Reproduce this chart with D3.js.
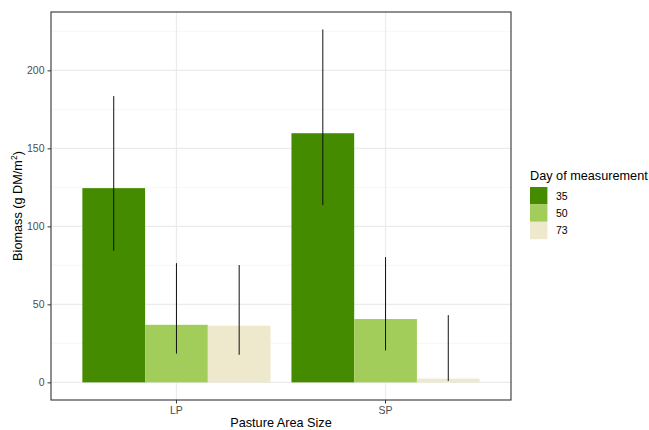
<!DOCTYPE html>
<html><head><meta charset="utf-8">
<script src="https://cdn.jsdelivr.net/npm/d3@7"></script>
<style>body{margin:0;background:#fff;} text{font-family:"Liberation Sans",Arial,sans-serif;}</style>
</head><body>
<svg id="c" width="649" height="430"></svg>
<script>
const categories = ["LP", "SP"];
const days = ["35", "50", "73"];
const colors = ["#458B00", "#A2CD5A", "#EEE8CD"];
const means = { "35": [124.5, 159.7], "50": [36.9, 40.6], "73": [36.3, 2.4] };
const lower = { "35": [84.3, 113.6], "50": [18.4, 20.5], "73": [17.7, 0.9] };
const upper = { "35": [183.5, 226.2], "50": [76.4, 80.3], "73": [75.2, 43.1] };
const yTicks = [0, 50, 100, 150, 200];
const yMinor = [25, 75, 125, 175, 225];

const svg = d3.select("#c");
const L = 51, R = 511, T = 12, B = 400;

const y = d3.scaleLinear().domain([-11.3, 237.4]).range([B, T]);
const x = d3.scaleLinear().domain([0.4, 2.6]).range([L, R]);
const xc = d => x(categories.indexOf(d) + 1);
const color = d3.scaleOrdinal().domain(days).range(colors);

svg.append("rect").attr("x", L).attr("y", T).attr("width", R - L).attr("height", B - T).attr("fill", "#fff");
const g = svg.append("g");
yMinor.forEach(v => g.append("line").attr("x1", L).attr("x2", R).attr("y1", y(v)).attr("y2", y(v)).attr("stroke", "#F2F2F2").attr("stroke-width", 0.7));
yTicks.forEach(v => g.append("line").attr("x1", L).attr("x2", R).attr("y1", y(v)).attr("y2", y(v)).attr("stroke", "#EBEBEB").attr("stroke-width", 1.2));
categories.forEach(c => g.append("line").attr("x1", xc(c)).attr("x2", xc(c)).attr("y1", T).attr("y2", B).attr("stroke", "#EBEBEB").attr("stroke-width", 1.2));

const bw = 0.3;
const rows = [];
days.forEach((d, i) => categories.forEach((c, j) => rows.push({ day: d, cat: c, i, j, m: means[d][j], lo: lower[d][j], hi: upper[d][j] })));
const xpos = r => r.j + 1 - 0.45 + r.i * bw;
svg.append("g").selectAll("rect").data(rows).join("rect")
  .attr("x", r => x(xpos(r))).attr("width", r => x(xpos(r) + bw) - x(xpos(r)))
  .attr("y", r => y(r.m)).attr("height", r => y(0) - y(r.m))
  .attr("fill", r => color(r.day));
svg.append("g").selectAll("line").data(rows).join("line")
  .attr("x1", r => x(xpos(r) + bw / 2)).attr("x2", r => x(xpos(r) + bw / 2))
  .attr("y1", r => y(r.lo)).attr("y2", r => y(r.hi))
  .attr("stroke", "#111").attr("stroke-width", 1);

svg.append("rect").attr("x", L).attr("y", T).attr("width", R - L).attr("height", B - T).attr("fill", "none").attr("stroke", "#333").attr("stroke-width", 1.1);

const ya = svg.append("g").attr("transform", `translate(${L},0)`).call(d3.axisLeft(y).tickValues(yTicks).tickSize(3.5).tickPadding(3));
ya.select(".domain").remove();
ya.selectAll("line").attr("stroke", "#333");
ya.selectAll("text").attr("fill", "#4D4D4D").style("font-size", "10.5px");

const xb = d3.scaleBand().domain(categories).range([x(0.5), x(2.5)]);
const xa = svg.append("g").attr("transform", `translate(0,${B})`).call(d3.axisBottom(xb).tickSize(3.5).tickPadding(3));
xa.select(".domain").remove();
xa.selectAll("line").attr("stroke", "#333");
xa.selectAll("text").attr("fill", "#4D4D4D").style("font-size", "10.5px");

svg.append("text").attr("x", (L + R) / 2).attr("y", 426.5).attr("text-anchor", "middle").style("font-size", "12.7px").attr("fill", "#000").text("Pasture Area Size");
const yt = svg.append("text").attr("transform", `translate(22,${(T + B) / 2}) rotate(-90)`).attr("text-anchor", "middle").style("font-size", "12.7px").attr("fill", "#000");
yt.append("tspan").text("Biomass (g DM/m");
yt.append("tspan").attr("dy", -5).style("font-size", "8.5px").text("2");
yt.append("tspan").attr("dy", 5).text(")");

const lg = svg.append("g");
lg.append("text").attr("x", 530).attr("y", 179.5).style("font-size", "12.7px").attr("fill", "#000").text("Day of measurement");
days.forEach((d, i) => {
  lg.append("rect").attr("x", 530).attr("y", 187 + i * 17.4).attr("width", 17.4).attr("height", 17.4).attr("fill", color(d));
  lg.append("text").attr("x", 556).attr("y", 187 + i * 17.4 + 12.5).style("font-size", "10.5px").attr("fill", "#000").text(d);
});
</script>
</body></html>
